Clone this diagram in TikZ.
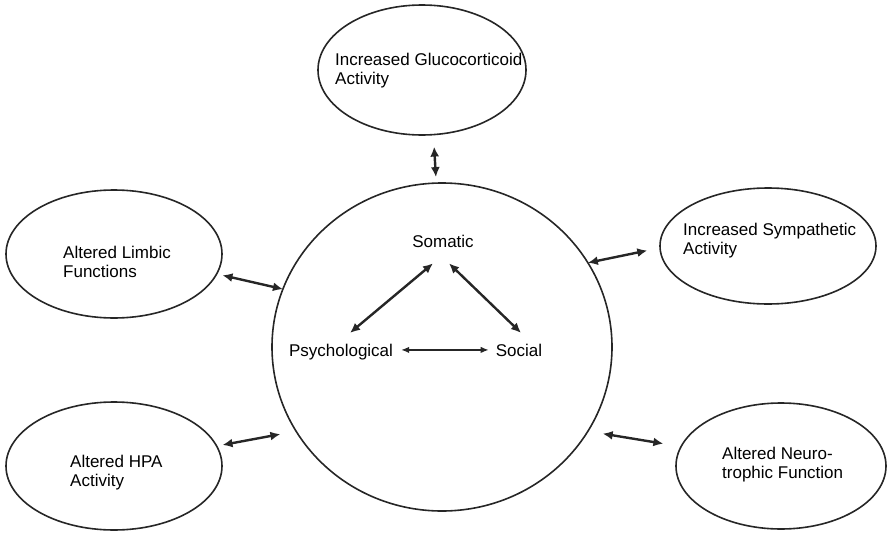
\documentclass[tikz,border=0pt]{standalone}
\usepackage{fontspec}
\setmainfont{Liberation Sans}
\usetikzlibrary{shapes.geometric,arrows.meta}
\begin{document}
\begin{tikzpicture}[x=1pt,y=1pt,
  oval/.style={draw=black!85, line width=1.6pt, ellipse, inner sep=0pt, outer sep=0pt},
  lbl/.style={align=left, anchor=north west, inner sep=0pt, font=\fontsize{17}{19.5}\selectfont},
  inlbl/.style={anchor=base, inner sep=0pt, font=\fontsize{17}{19.5}\selectfont},
  link/.style={{Latex[length=10pt,width=9pt]}-{Latex[length=10pt,width=9pt]}, line width=2.4pt, draw=black!85},
  thinlink/.style={{Latex[length=8pt,width=6.5pt]}-{Latex[length=8pt,width=6.5pt]}, line width=1.4pt, draw=black!85}]
\useasboundingbox (0,0) rectangle (887,-533);
% outer ovals
\node[oval, minimum width=208pt, minimum height=130pt] (gluc) at (422,-70) {};
\node[oval, minimum width=216pt, minimum height=128pt] (limbic) at (114,-254) {};
\node[oval, minimum width=216pt, minimum height=116pt] (symp) at (768,-246) {};
\node[oval, minimum width=216pt, minimum height=128pt] (hpa) at (114,-466) {};
\node[oval, minimum width=210pt, minimum height=126pt] (neuro) at (781,-466) {};
\node[oval, minimum width=340pt, minimum height=328pt] (big) at (442,-347) {};
% labels
\node[lbl] (glucL) at (335,-52.6) {Increased Glucocorticoid\\Activity};
\node[lbl] (limbicL) at (63,-245.6) {Altered Limbic\\Functions};
\node[lbl] (sympL) at (683,-222.6) {Increased Sympathetic\\Activity};
\node[lbl] (hpaL) at (70,-454.6) {Altered HPA\\Activity};
\node[lbl] (neuroL) at (722,-446.6) {Altered Neuro-\\trophic Function};
% inner labels
\node[inlbl] (som) at (443,-247) {Somatic};
\node[inlbl] (psy) at (341,-356) {Psychological};
\node[inlbl] (soc) at (519,-356) {Social};
% outer connectors
\draw[link, shorten <=12pt, shorten >=6pt] (gluc.-80) -- (big.92);
\draw[link, shorten <=6pt] (limbic.-11) -- (big.160);
\draw[link, shorten >=13pt] (big.30) -- (symp.181);
\draw[link, shorten <=6pt, shorten >=16pt] (hpa.11) -- (big.210);
\draw[link, shorten <=15pt, shorten >=18pt] (big.330) -- (neuro.169);
% inner connectors
\draw[link] ([shift={(-10,-16)}]som.south) -- ([shift={(9,10.6)}]psy.north);
\draw[link] ([shift={(6,-16)}]som.south) -- ([shift={(2,10.6)}]soc.north);
\draw[thinlink, shorten <=8pt, shorten >=7pt] (psy.east |- soc.west) -- (soc.west);
\end{tikzpicture}
\end{document}
